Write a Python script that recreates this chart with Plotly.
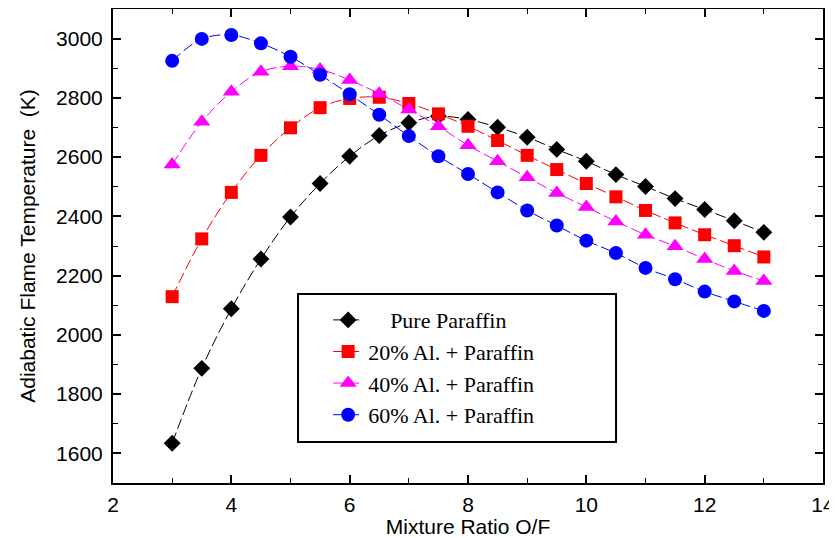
import plotly.graph_objects as go

of_ratio = [3, 3.5, 4, 4.5, 5, 5.5, 6, 6.5, 7, 7.5, 8, 8.5, 9, 9.5, 10, 10.5, 11, 11.5, 12, 12.5, 13]

pure_paraffin = [1634, 1887, 2088, 2256, 2398, 2511, 2603, 2673, 2716, 2738, 2727, 2701, 2667,
                 2626, 2586, 2541, 2501, 2460, 2423, 2385, 2346]
al20_paraffin = [2129, 2324, 2481, 2606, 2699, 2767, 2798, 2802, 2781, 2746, 2704, 2656, 2606,
                 2558, 2511, 2466, 2420, 2378, 2338, 2301, 2263]
al40_paraffin = [2575, 2719, 2821, 2888, 2907, 2896, 2860, 2814, 2761, 2704, 2640, 2586, 2532,
                 2479, 2432, 2383, 2338, 2299, 2256, 2216, 2182]
al60_paraffin = [2925, 2999, 3012, 2984, 2939, 2878, 2812, 2743, 2671, 2603, 2543, 2481, 2420,
                 2369, 2318, 2276, 2226, 2188, 2146, 2113, 2081]

series_names = ["\u00a0\u00a0\u00a0\u00a0Pure Paraffin", "20% Al. + Paraffin", "40% Al. + Paraffin", "60% Al. + Paraffin"]
series_values = [pure_paraffin, al20_paraffin, al40_paraffin, al60_paraffin]
series_colors = ["#000000", "#ff0000", "#ff00ff", "#0000ff"]
series_symbols = ["diamond", "square", "triangle-up", "circle"]
series_sizes = [13, 13, 15, 14]

x_ticks = [2, 4, 6, 8, 10, 12, 14]
y_ticks = [1600, 1800, 2000, 2200, 2400, 2600, 2800, 3000]

fig = go.Figure()
for name, vals, col, sym, sz in zip(series_names, series_values, series_colors, series_symbols, series_sizes):
    fig.add_trace(go.Scatter(
        x=of_ratio, y=vals, name=name, mode="lines+markers",
        line=dict(color=col, width=1, dash="11px,4px", shape="spline"),
        marker=dict(symbol=sym, size=sz, color=col, line=dict(width=0)),
    ))

axis_common = dict(
    showline=True, linecolor="black", linewidth=2, mirror="ticks",
    ticks="inside", ticklen=8, tickwidth=1.5, tickcolor="black",
    showgrid=False, zeroline=False, automargin=False,
    tickfont=dict(family="Liberation Sans, Arial", size=21, color="black"),
    title_font=dict(family="Liberation Sans, Arial", size=21, color="black"),
)

fig.update_xaxes(
    range=[2, 14], tickvals=x_ticks, title_text="Mixture Ratio O/F", title_standoff=5,
    ticklabelstandoff=2,
    minor=dict(ticks="inside", ticklen=5, dtick=1, tick0=2, tickcolor="black", tickwidth=1),
    **axis_common,
)
fig.update_yaxes(
    range=[1500, 3100], tickvals=y_ticks, title_text="Adiabatic Flame Temperature  (K)", title_standoff=15,
    ticklabelstandoff=4,
    minor=dict(ticks="inside", ticklen=5, dtick=100, tick0=1500, tickcolor="black", tickwidth=1),
    **axis_common,
)

# legend frame drawn as a shape (paper coordinates)
fig.add_shape(type="rect", xref="paper", yref="paper", x0=0.2606, x1=0.7085, y0=0.0865, y1=0.3987,
              line=dict(color="black", width=2), fillcolor="white", layer="above")

# page body has an 8px margin, so the figure is offset by 8px right/down
fig.update_layout(
    width=829, height=530,
    margin=dict(l=105, r=14, t=1, b=55),
    plot_bgcolor="white", paper_bgcolor="white",
    legend=dict(
        x=0.303, y=0.388, xanchor="left", yanchor="top",
        borderwidth=0, bgcolor="rgba(0,0,0,0)",
        font=dict(family="Liberation Serif, Times New Roman", size=22, color="black"),
        tracegroupgap=0,
    ),
)

fig.write_html("out.html")
